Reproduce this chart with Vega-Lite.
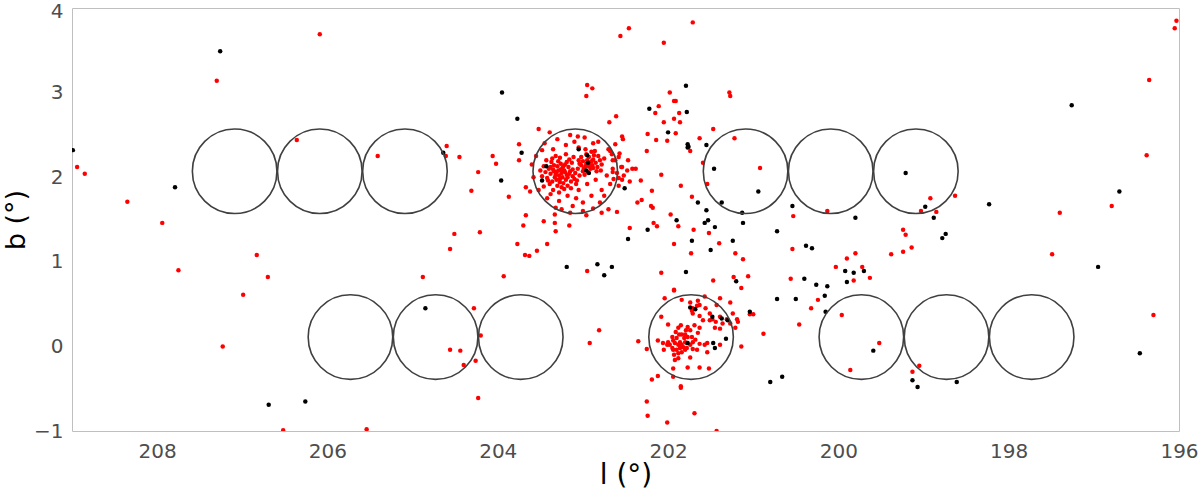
{
  "$schema": "https://vega.github.io/schema/vega-lite/v6.json",
  "width": 1107,
  "height": 423,
  "autosize": "none",
  "padding": {"left": 72, "top": 8, "right": 21, "bottom": 59},
  "background": "white",
  "config": {
    "view": {"stroke": "#bfbfbf", "strokeWidth": 1},
    "font": "DejaVu Sans"
  },
  "datasets": {
    "fields": [
      {"l": 207.09, "b": 2.07}, {"l": 206.09, "b": 2.07}, {"l": 205.09, "b": 2.07},
      {"l": 203.09, "b": 2.07}, {"l": 201.09, "b": 2.07}, {"l": 200.09, "b": 2.07},
      {"l": 199.09, "b": 2.07},
      {"l": 205.73, "b": 0.11}, {"l": 204.73, "b": 0.11}, {"l": 203.73, "b": 0.11},
      {"l": 201.73, "b": 0.11}, {"l": 199.73, "b": 0.11}, {"l": 198.73, "b": 0.11},
      {"l": 197.73, "b": 0.11}
    ],
    "stars": [
      {"l": 208.94, "b": 2.12, "s": "a"}, {"l": 208.85, "b": 2.04, "s": "a"}, {"l": 208.35, "b": 1.71, "s": "a"},
      {"l": 207.94, "b": 1.46, "s": "a"}, {"l": 207.75, "b": 0.90, "s": "a"}, {"l": 207.30, "b": 3.14, "s": "a"},
      {"l": 207.23, "b": 0.00, "s": "a"}, {"l": 206.83, "b": 1.08, "s": "a"}, {"l": 206.70, "b": 0.82, "s": "a"},
      {"l": 206.99, "b": 0.61, "s": "a"}, {"l": 206.52, "b": -0.99, "s": "a"}, {"l": 206.36, "b": 2.44, "s": "a"},
      {"l": 206.09, "b": 3.69, "s": "a"}, {"l": 205.41, "b": 2.25, "s": "a"}, {"l": 204.60, "b": 2.37, "s": "a"},
      {"l": 204.61, "b": 2.25, "s": "a"}, {"l": 204.45, "b": 2.24, "s": "a"}, {"l": 204.23, "b": 2.06, "s": "a"},
      {"l": 204.31, "b": 1.84, "s": "a"}, {"l": 204.06, "b": 2.25, "s": "a"}, {"l": 204.02, "b": 2.16, "s": "a"},
      {"l": 203.87, "b": 1.77, "s": "a"}, {"l": 203.75, "b": 2.39, "s": "a"}, {"l": 203.75, "b": 2.20, "s": "a"},
      {"l": 203.52, "b": 2.57, "s": "a"}, {"l": 203.39, "b": 2.53, "s": "a"}, {"l": 203.67, "b": 1.88, "s": "a"},
      {"l": 203.62, "b": 1.83, "s": "a"}, {"l": 203.67, "b": 1.55, "s": "a"}, {"l": 203.33, "b": 1.56, "s": "a"},
      {"l": 203.32, "b": 1.64, "s": "a"}, {"l": 203.46, "b": 1.48, "s": "a"}, {"l": 203.06, "b": 2.48, "s": "a"},
      {"l": 202.56, "b": 3.67, "s": "a"}, {"l": 202.46, "b": 3.76, "s": "a"}, {"l": 202.05, "b": 3.59, "s": "a"},
      {"l": 201.71, "b": 3.83, "s": "a"}, {"l": 202.95, "b": 3.09, "s": "a"}, {"l": 202.89, "b": 3.05, "s": "a"},
      {"l": 202.96, "b": 2.96, "s": "a"}, {"l": 201.98, "b": 3.00, "s": "a"}, {"l": 201.93, "b": 2.90, "s": "a"},
      {"l": 201.91, "b": 2.90, "s": "a"}, {"l": 202.11, "b": 2.84, "s": "a"}, {"l": 202.15, "b": 2.76, "s": "a"},
      {"l": 201.87, "b": 2.76, "s": "a"}, {"l": 201.93, "b": 2.69, "s": "a"}, {"l": 201.86, "b": 2.65, "s": "a"},
      {"l": 202.05, "b": 2.65, "s": "a"}, {"l": 201.28, "b": 3.00, "s": "a"}, {"l": 201.27, "b": 2.96, "s": "a"},
      {"l": 201.91, "b": 2.52, "s": "a"}, {"l": 202.24, "b": 2.51, "s": "a"}, {"l": 202.14, "b": 2.44, "s": "a"},
      {"l": 202.01, "b": 2.43, "s": "a"}, {"l": 202.61, "b": 2.72, "s": "a"}, {"l": 202.69, "b": 2.65, "s": "a"},
      {"l": 202.54, "b": 2.48, "s": "a"}, {"l": 202.53, "b": 2.45, "s": "a"}, {"l": 202.25, "b": 2.31, "s": "a"},
      {"l": 201.74, "b": 2.31, "s": "a"}, {"l": 201.63, "b": 2.46, "s": "a"}, {"l": 201.47, "b": 2.57, "s": "a"},
      {"l": 201.22, "b": 2.46, "s": "a"}, {"l": 201.59, "b": 2.17, "s": "a"}, {"l": 200.92, "b": 2.11, "s": "a"},
      {"l": 201.54, "b": 1.92, "s": "a"}, {"l": 202.42, "b": 2.10, "s": "a"}, {"l": 202.38, "b": 2.10, "s": "a"},
      {"l": 202.32, "b": 1.96, "s": "a"}, {"l": 202.08, "b": 2.03, "s": "a"}, {"l": 201.85, "b": 1.90, "s": "a"},
      {"l": 202.19, "b": 1.84, "s": "a"}, {"l": 202.36, "b": 1.70, "s": "a"}, {"l": 202.31, "b": 1.73, "s": "a"},
      {"l": 202.20, "b": 1.66, "s": "a"}, {"l": 202.18, "b": 1.64, "s": "a"}, {"l": 201.72, "b": 1.77, "s": "a"},
      {"l": 202.60, "b": 1.59, "s": "a"}, {"l": 201.97, "b": 1.56, "s": "a"}, {"l": 200.53, "b": 1.54, "s": "a"},
      {"l": 200.13, "b": 1.60, "s": "a"}, {"l": 202.17, "b": 1.46, "s": "a"}, {"l": 202.45, "b": 1.40, "s": "a"},
      {"l": 202.13, "b": 1.42, "s": "a"}, {"l": 201.88, "b": 1.42, "s": "a"}, {"l": 201.70, "b": 1.38, "s": "a"},
      {"l": 201.52, "b": 1.34, "s": "a"}, {"l": 201.40, "b": 1.22, "s": "a"}, {"l": 201.93, "b": 1.21, "s": "a"},
      {"l": 201.73, "b": 1.10, "s": "a"}, {"l": 201.21, "b": 1.10, "s": "a"}, {"l": 201.12, "b": 1.03, "s": "a"},
      {"l": 200.54, "b": 1.15, "s": "a"}, {"l": 199.90, "b": 1.04, "s": "a"}, {"l": 199.80, "b": 1.10, "s": "a"},
      {"l": 200.03, "b": 0.94, "s": "a"}, {"l": 199.72, "b": 0.94, "s": "a"}, {"l": 199.63, "b": 0.81, "s": "a"},
      {"l": 199.82, "b": 0.78, "s": "a"}, {"l": 200.56, "b": 0.80, "s": "a"}, {"l": 200.24, "b": 0.55, "s": "a"},
      {"l": 200.32, "b": 0.45, "s": "a"}, {"l": 199.96, "b": 0.37, "s": "a"}, {"l": 200.46, "b": 0.26, "s": "a"},
      {"l": 199.52, "b": 0.04, "s": "a"}, {"l": 199.86, "b": -0.28, "s": "a"}, {"l": 200.88, "b": 0.15, "s": "a"},
      {"l": 201.04, "b": 0.38, "s": "a"}, {"l": 201.00, "b": 0.38, "s": "a"}, {"l": 201.14, "b": 0.00, "s": "a"},
      {"l": 201.06, "b": 0.83, "s": "a"}, {"l": 201.14, "b": 0.69, "s": "a"}, {"l": 201.23, "b": 0.82, "s": "a"},
      {"l": 201.47, "b": 0.78, "s": "a"}, {"l": 202.08, "b": 0.87, "s": "a"}, {"l": 201.93, "b": 0.67, "s": "a"},
      {"l": 202.95, "b": 0.89, "s": "a"}, {"l": 202.81, "b": 0.19, "s": "a"}, {"l": 202.92, "b": 0.04, "s": "a"},
      {"l": 202.35, "b": 0.06, "s": "a"}, {"l": 202.25, "b": -0.03, "s": "a"}, {"l": 202.19, "b": -0.39, "s": "a"},
      {"l": 202.12, "b": -0.35, "s": "a"}, {"l": 201.85, "b": -0.47, "s": "a"}, {"l": 201.85, "b": -0.49, "s": "a"},
      {"l": 202.25, "b": -0.65, "s": "a"}, {"l": 202.24, "b": -0.82, "s": "a"}, {"l": 202.01, "b": -0.90, "s": "a"},
      {"l": 201.69, "b": -0.79, "s": "a"}, {"l": 201.43, "b": -1.00, "s": "a"},
      {"l": 204.51, "b": 1.33, "s": "a"}, {"l": 204.21, "b": 1.35, "s": "a"}, {"l": 204.56, "b": 1.15, "s": "a"},
      {"l": 204.88, "b": 0.82, "s": "a"}, {"l": 203.93, "b": 0.83, "s": "a"}, {"l": 203.77, "b": 1.21, "s": "a"},
      {"l": 203.68, "b": 1.08, "s": "a"}, {"l": 203.63, "b": 1.07, "s": "a"}, {"l": 203.54, "b": 1.13, "s": "a"},
      {"l": 203.42, "b": 1.21, "s": "a"}, {"l": 203.70, "b": 1.43, "s": "a"}, {"l": 203.33, "b": 1.46, "s": "a"},
      {"l": 203.32, "b": 1.36, "s": "a"}, {"l": 203.16, "b": 1.43, "s": "a"}, {"l": 204.28, "b": 0.45, "s": "a"},
      {"l": 204.20, "b": 0.13, "s": "a"}, {"l": 204.56, "b": -0.04, "s": "a"}, {"l": 204.44, "b": -0.05, "s": "a"},
      {"l": 204.40, "b": -0.22, "s": "a"}, {"l": 204.26, "b": -0.17, "s": "a"}, {"l": 204.23, "b": -0.61, "s": "a"},
      {"l": 205.54, "b": -0.98, "s": "a"},
      {"l": 196.03, "b": 3.85, "s": "a"}, {"l": 196.05, "b": 3.76, "s": "a"}, {"l": 196.35, "b": 3.15, "s": "a"},
      {"l": 196.38, "b": 2.26, "s": "a"}, {"l": 198.92, "b": 1.75, "s": "a"}, {"l": 198.63, "b": 1.78, "s": "a"},
      {"l": 199.03, "b": 1.60, "s": "a"}, {"l": 198.85, "b": 1.59, "s": "a"}, {"l": 197.40, "b": 1.58, "s": "a"},
      {"l": 196.79, "b": 1.66, "s": "a"}, {"l": 199.24, "b": 1.38, "s": "a"}, {"l": 199.21, "b": 1.32, "s": "a"},
      {"l": 199.14, "b": 1.17, "s": "a"}, {"l": 199.38, "b": 1.09, "s": "a"}, {"l": 199.24, "b": 1.12, "s": "a"},
      {"l": 197.49, "b": 1.09, "s": "a"}, {"l": 196.30, "b": 0.37, "s": "a"}, {"l": 199.05, "b": -0.23, "s": "a"},
      {"l": 199.13, "b": -0.30, "s": "a"},
      {"l": 202.62, "b": 2.39, "s": "a"}, {"l": 202.68, "b": 2.31, "s": "a"}, {"l": 202.65, "b": 2.20, "s": "a"},
      {"l": 202.58, "b": 2.24, "s": "a"}, {"l": 202.54, "b": 2.12, "s": "a"}, {"l": 202.47, "b": 2.20, "s": "a"},
      {"l": 202.65, "b": 2.06, "s": "a"}, {"l": 202.58, "b": 1.99, "s": "a"}, {"l": 202.54, "b": 1.97, "s": "a"},

      {"l": 203.25, "b": 2.05, "s": "a"}, {"l": 203.22, "b": 2.08, "s": "a"}, {"l": 203.28, "b": 2.02, "s": "a"},
      {"l": 203.31, "b": 2.06, "s": "a"}, {"l": 203.19, "b": 2.03, "s": "a"}, {"l": 203.24, "b": 2.11, "s": "a"},
      {"l": 203.27, "b": 1.98, "s": "a"}, {"l": 203.35, "b": 2.09, "s": "a"}, {"l": 203.15, "b": 2.07, "s": "a"},
      {"l": 203.30, "b": 2.13, "s": "a"}, {"l": 203.20, "b": 1.97, "s": "a"}, {"l": 203.33, "b": 2.00, "s": "a"},
      {"l": 203.12, "b": 2.01, "s": "a"}, {"l": 203.38, "b": 2.04, "s": "a"}, {"l": 203.26, "b": 2.16, "s": "a"},
      {"l": 203.17, "b": 2.12, "s": "a"}, {"l": 203.23, "b": 1.93, "s": "a"}, {"l": 203.40, "b": 2.10, "s": "a"},
      {"l": 203.09, "b": 2.05, "s": "a"}, {"l": 203.29, "b": 2.19, "s": "a"}, {"l": 203.36, "b": 1.95, "s": "a"},
      {"l": 203.14, "b": 1.95, "s": "a"}, {"l": 203.21, "b": 2.15, "s": "a"}, {"l": 203.34, "b": 2.14, "s": "a"},
      {"l": 203.44, "b": 2.06, "s": "a"}, {"l": 203.06, "b": 2.10, "s": "a"}, {"l": 203.18, "b": 1.90, "s": "a"},
      {"l": 203.30, "b": 1.90, "s": "a"}, {"l": 203.42, "b": 1.99, "s": "a"}, {"l": 203.10, "b": 1.98, "s": "a"},
      {"l": 203.27, "b": 2.23, "s": "a"}, {"l": 203.13, "b": 2.17, "s": "a"}, {"l": 203.37, "b": 2.18, "s": "a"},
      {"l": 203.46, "b": 2.13, "s": "a"}, {"l": 203.04, "b": 2.02, "s": "a"}, {"l": 203.22, "b": 1.86, "s": "a"},
      {"l": 203.39, "b": 1.92, "s": "a"}, {"l": 203.16, "b": 2.21, "s": "a"}, {"l": 203.48, "b": 2.01, "s": "a"},
      {"l": 203.02, "b": 2.14, "s": "a"}, {"l": 203.32, "b": 2.25, "s": "a"}, {"l": 203.25, "b": 1.88, "s": "a"},
      {"l": 203.08, "b": 1.92, "s": "a"}, {"l": 203.43, "b": 2.20, "s": "a"}, {"l": 203.20, "b": 2.27, "s": "a"},
      {"l": 203.11, "b": 2.24, "s": "a"}, {"l": 203.35, "b": 1.85, "s": "a"}, {"l": 203.50, "b": 2.08, "s": "a"},
      {"l": 203.00, "b": 2.07, "s": "a"}, {"l": 203.28, "b": 1.82, "s": "a"}, {"l": 203.18, "b": 2.00, "s": "a"},
      {"l": 203.24, "b": 2.00, "s": "a"}, {"l": 203.32, "b": 2.03, "s": "a"}, {"l": 203.26, "b": 2.09, "s": "a"},
      {"l": 203.21, "b": 2.06, "s": "a"}, {"l": 203.29, "b": 2.08, "s": "a"}, {"l": 203.16, "b": 2.04, "s": "a"},
      {"l": 203.34, "b": 2.07, "s": "a"}, {"l": 203.23, "b": 2.13, "s": "a"}, {"l": 203.12, "b": 2.09, "s": "a"},
      {"l": 203.38, "b": 2.12, "s": "a"}, {"l": 203.19, "b": 2.18, "s": "a"}, {"l": 203.31, "b": 1.97, "s": "a"},
      {"l": 203.07, "b": 1.96, "s": "a"}, {"l": 203.41, "b": 1.96, "s": "a"}, {"l": 203.27, "b": 1.94, "s": "a"},
      {"l": 203.14, "b": 1.87, "s": "a"}, {"l": 203.46, "b": 1.89, "s": "a"}, {"l": 203.05, "b": 2.20, "s": "a"},
      {"l": 203.36, "b": 2.22, "s": "a"},

      {"l": 202.92, "b": 2.17, "s": "a"}, {"l": 202.95, "b": 2.20, "s": "a"}, {"l": 202.89, "b": 2.14, "s": "a"},
      {"l": 202.97, "b": 2.13, "s": "a"}, {"l": 202.88, "b": 2.21, "s": "a"}, {"l": 202.93, "b": 2.24, "s": "a"},
      {"l": 202.85, "b": 2.17, "s": "a"}, {"l": 203.00, "b": 2.19, "s": "a"}, {"l": 202.91, "b": 2.10, "s": "a"},
      {"l": 202.96, "b": 2.27, "s": "a"}, {"l": 202.83, "b": 2.12, "s": "a"}, {"l": 202.99, "b": 2.10, "s": "a"},
      {"l": 202.87, "b": 2.26, "s": "a"}, {"l": 202.94, "b": 2.06, "s": "a"}, {"l": 202.80, "b": 2.20, "s": "a"},
      {"l": 203.02, "b": 2.24, "s": "a"}, {"l": 202.90, "b": 2.30, "s": "a"}, {"l": 202.84, "b": 2.07, "s": "a"},
      {"l": 202.98, "b": 2.03, "s": "a"}, {"l": 202.78, "b": 2.15, "s": "a"}, {"l": 202.86, "b": 2.31, "s": "a"},
      {"l": 203.04, "b": 2.16, "s": "a"}, {"l": 202.82, "b": 2.25, "s": "a"}, {"l": 202.93, "b": 2.13, "s": "a"},
      {"l": 202.90, "b": 2.19, "s": "a"}, {"l": 202.96, "b": 2.16, "s": "a"}, {"l": 202.88, "b": 2.11, "s": "a"},
      {"l": 202.75, "b": 2.22, "s": "a"}, {"l": 202.79, "b": 2.08, "s": "a"}, {"l": 202.97, "b": 2.33, "s": "a"},

      {"l": 203.45, "b": 2.40, "s": "a"}, {"l": 203.30, "b": 2.45, "s": "a"}, {"l": 203.15, "b": 2.50, "s": "a"},
      {"l": 202.98, "b": 2.47, "s": "a"}, {"l": 202.82, "b": 2.42, "s": "a"}, {"l": 202.70, "b": 2.33, "s": "a"},
      {"l": 202.72, "b": 2.02, "s": "a"}, {"l": 202.68, "b": 1.92, "s": "a"}, {"l": 202.78, "b": 1.85, "s": "a"},
      {"l": 202.90, "b": 1.78, "s": "a"}, {"l": 203.00, "b": 1.70, "s": "a"}, {"l": 203.12, "b": 1.66, "s": "a"},
      {"l": 203.28, "b": 1.72, "s": "a"}, {"l": 203.42, "b": 1.75, "s": "a"}, {"l": 203.52, "b": 1.85, "s": "a"},
      {"l": 203.55, "b": 2.25, "s": "a"}, {"l": 203.58, "b": 2.00, "s": "a"}, {"l": 203.20, "b": 2.38, "s": "a"},
      {"l": 203.05, "b": 2.35, "s": "a"}, {"l": 202.88, "b": 2.40, "s": "a"}, {"l": 203.35, "b": 2.33, "s": "a"},
      {"l": 202.75, "b": 1.78, "s": "a"}, {"l": 202.95, "b": 1.92, "s": "a"}, {"l": 203.05, "b": 1.85, "s": "a"},
      {"l": 202.85, "b": 1.97, "s": "a"}, {"l": 202.80, "b": 1.70, "s": "a"}, {"l": 203.18, "b": 1.78, "s": "a"},
      {"l": 203.38, "b": 1.80, "s": "a"}, {"l": 202.65, "b": 2.10, "s": "a"}, {"l": 202.62, "b": 2.20, "s": "a"},
      {"l": 202.60, "b": 2.05, "s": "a"}, {"l": 202.64, "b": 1.98, "s": "a"}, {"l": 202.66, "b": 2.27, "s": "a"},
      {"l": 202.58, "b": 1.90, "s": "a"}, {"l": 202.55, "b": 2.12, "s": "a"}, {"l": 202.52, "b": 2.02, "s": "a"},
      {"l": 202.48, "b": 2.08, "s": "a"}, {"l": 202.45, "b": 1.95, "s": "a"}, {"l": 202.57, "b": 2.28, "s": "a"},
      {"l": 202.70, "b": 1.62, "s": "a"}, {"l": 203.00, "b": 1.60, "s": "a"}, {"l": 202.88, "b": 1.63, "s": "a"},
      {"l": 203.08, "b": 1.75, "s": "a"}, {"l": 203.25, "b": 1.62, "s": "a"}, {"l": 203.48, "b": 2.32, "s": "a"},
      {"l": 203.60, "b": 2.15, "s": "a"}, {"l": 203.10, "b": 2.42, "s": "a"}, {"l": 202.96, "b": 1.55, "s": "a"},
      {"l": 202.78, "b": 1.58, "s": "a"}, {"l": 203.15, "b": 1.58, "s": "a"},

      {"l": 201.93, "b": 0.66, "s": "a"}, {"l": 202.04, "b": 0.57, "s": "a"}, {"l": 201.84, "b": 0.55, "s": "a"},
      {"l": 201.74, "b": 0.52, "s": "a"}, {"l": 201.65, "b": 0.54, "s": "a"}, {"l": 201.71, "b": 0.45, "s": "a"},
      {"l": 201.66, "b": 0.48, "s": "a"}, {"l": 201.72, "b": 0.42, "s": "a"}, {"l": 201.71, "b": 0.39, "s": "a"},
      {"l": 201.63, "b": 0.49, "s": "a"}, {"l": 201.57, "b": 0.59, "s": "a"}, {"l": 201.39, "b": 0.57, "s": "a"},
      {"l": 201.27, "b": 0.52, "s": "a"}, {"l": 201.43, "b": 0.49, "s": "a"}, {"l": 201.51, "b": 0.39, "s": "a"},
      {"l": 201.48, "b": 0.32, "s": "a"}, {"l": 201.39, "b": 0.35, "s": "a"}, {"l": 201.31, "b": 0.32, "s": "a"},
      {"l": 201.36, "b": 0.27, "s": "a"}, {"l": 201.44, "b": 0.29, "s": "a"}, {"l": 201.51, "b": 0.31, "s": "a"},
      {"l": 201.24, "b": 0.39, "s": "a"}, {"l": 201.19, "b": 0.32, "s": "a"}, {"l": 201.18, "b": 0.29, "s": "a"},
      {"l": 201.27, "b": 0.27, "s": "a"}, {"l": 201.45, "b": 0.22, "s": "a"}, {"l": 201.39, "b": 0.21, "s": "a"},
      {"l": 201.63, "b": 0.22, "s": "a"}, {"l": 201.69, "b": 0.25, "s": "a"}, {"l": 201.77, "b": 0.23, "s": "a"},
      {"l": 201.74, "b": 0.19, "s": "a"}, {"l": 201.65, "b": 0.16, "s": "a"}, {"l": 201.72, "b": 0.11, "s": "a"},
      {"l": 201.80, "b": 0.14, "s": "a"}, {"l": 202.00, "b": 0.26, "s": "a"}, {"l": 201.88, "b": 0.22, "s": "a"},
      {"l": 202.08, "b": 0.35, "s": "a"}, {"l": 201.95, "b": 0.11, "s": "a"}, {"l": 201.90, "b": 0.10, "s": "a"},
      {"l": 201.86, "b": 0.05, "s": "a"}, {"l": 201.84, "b": 0.02, "s": "a"}, {"l": 201.80, "b": 0.05, "s": "a"},
      {"l": 201.78, "b": 0.04, "s": "a"}, {"l": 201.88, "b": 0.02, "s": "a"}, {"l": 201.92, "b": 0.04, "s": "a"},
      {"l": 201.98, "b": 0.02, "s": "a"}, {"l": 202.01, "b": 0.02, "s": "a"}, {"l": 201.82, "b": -0.01, "s": "a"},
      {"l": 201.86, "b": -0.02, "s": "a"}, {"l": 201.90, "b": -0.04, "s": "a"}, {"l": 201.94, "b": -0.04, "s": "a"},
      {"l": 201.78, "b": -0.02, "s": "a"}, {"l": 201.74, "b": 0.02, "s": "a"}, {"l": 201.81, "b": 0.10, "s": "a"},
      {"l": 201.77, "b": 0.11, "s": "a"}, {"l": 201.84, "b": 0.14, "s": "a"}, {"l": 201.94, "b": 0.07, "s": "a"},
      {"l": 202.00, "b": 0.05, "s": "a"}, {"l": 201.88, "b": -0.08, "s": "a"}, {"l": 201.84, "b": -0.07, "s": "a"},
      {"l": 201.80, "b": -0.04, "s": "a"}, {"l": 201.95, "b": -0.02, "s": "a"}, {"l": 202.06, "b": 0.04, "s": "a"},
      {"l": 201.71, "b": -0.03, "s": "a"}, {"l": 201.71, "b": 0.05, "s": "a"}, {"l": 202.12, "b": 0.07, "s": "a"},
      {"l": 201.63, "b": 0.03, "s": "a"}, {"l": 201.66, "b": -0.04, "s": "a"}, {"l": 201.54, "b": 0.04, "s": "a"},
      {"l": 201.57, "b": 0.02, "s": "a"}, {"l": 201.39, "b": 0.02, "s": "a"}, {"l": 201.54, "b": -0.07, "s": "a"},
      {"l": 201.74, "b": -0.13, "s": "a"}, {"l": 201.88, "b": -0.14, "s": "a"}, {"l": 201.92, "b": -0.16, "s": "a"},
      {"l": 201.94, "b": -0.26, "s": "a"}, {"l": 201.77, "b": -0.25, "s": "a"}, {"l": 201.63, "b": -0.25, "s": "a"},
      {"l": 201.52, "b": -0.26, "s": "a"}, {"l": 201.94, "b": -0.36, "s": "a"}, {"l": 201.21, "b": 0.22, "s": "a"},
      {"l": 201.87, "b": 0.14, "s": "a"}, {"l": 201.91, "b": 0.17, "s": "a"}, {"l": 201.79, "b": 0.19, "s": "a"},
      {"l": 201.85, "b": 0.25, "s": "a"}, {"l": 201.59, "b": 0.31, "s": "a"}, {"l": 201.63, "b": 0.36, "s": "a"},
      {"l": 201.56, "b": 0.45, "s": "a"}, {"l": 201.93, "b": -0.10, "s": "a"}, {"l": 202.05, "b": -0.04, "s": "a"},
      {"l": 201.68, "b": 0.08, "s": "a"},

      {"l": 208.99, "b": 2.32, "s": "b"}, {"l": 207.79, "b": 1.88, "s": "b"}, {"l": 207.26, "b": 3.49, "s": "b"},
      {"l": 206.69, "b": -0.69, "s": "b"}, {"l": 206.26, "b": -0.65, "s": "b"}, {"l": 204.64, "b": 2.29, "s": "b"},
      {"l": 203.95, "b": 3.00, "s": "b"}, {"l": 203.77, "b": 2.69, "s": "b"}, {"l": 203.96, "b": 1.96, "s": "b"},
      {"l": 203.72, "b": 2.29, "s": "b"}, {"l": 203.43, "b": 2.13, "s": "b"}, {"l": 203.48, "b": 1.96, "s": "b"},
      {"l": 203.05, "b": 2.33, "s": "b"}, {"l": 202.95, "b": 2.26, "s": "b"}, {"l": 202.94, "b": 2.17, "s": "b"},
      {"l": 202.96, "b": 2.08, "s": "b"}, {"l": 202.93, "b": 2.05, "s": "b"}, {"l": 202.51, "b": 1.87, "s": "b"},
      {"l": 202.22, "b": 2.81, "s": "b"}, {"l": 202.00, "b": 2.53, "s": "b"}, {"l": 201.79, "b": 3.08, "s": "b"},
      {"l": 201.78, "b": 2.77, "s": "b"}, {"l": 201.77, "b": 2.39, "s": "b"}, {"l": 201.76, "b": 2.36, "s": "b"},
      {"l": 201.77, "b": 2.35, "s": "b"}, {"l": 201.55, "b": 2.38, "s": "b"}, {"l": 201.46, "b": 2.10, "s": "b"},
      {"l": 200.94, "b": 1.83, "s": "b"}, {"l": 201.65, "b": 1.70, "s": "b"}, {"l": 201.55, "b": 1.61, "s": "b"},
      {"l": 201.37, "b": 1.70, "s": "b"}, {"l": 201.90, "b": 1.49, "s": "b"}, {"l": 201.53, "b": 1.49, "s": "b"},
      {"l": 201.57, "b": 1.46, "s": "b"}, {"l": 201.13, "b": 1.58, "s": "b"}, {"l": 201.12, "b": 1.46, "s": "b"},
      {"l": 200.54, "b": 1.66, "s": "b"}, {"l": 199.80, "b": 1.52, "s": "b"}, {"l": 202.24, "b": 1.38, "s": "b"},
      {"l": 202.47, "b": 1.27, "s": "b"}, {"l": 201.45, "b": 1.41, "s": "b"}, {"l": 201.72, "b": 1.25, "s": "b"},
      {"l": 201.24, "b": 1.25, "s": "b"}, {"l": 201.50, "b": 1.14, "s": "b"}, {"l": 200.72, "b": 1.36, "s": "b"},
      {"l": 200.38, "b": 1.19, "s": "b"}, {"l": 200.31, "b": 1.16, "s": "b"}, {"l": 199.92, "b": 0.89, "s": "b"},
      {"l": 199.82, "b": 0.87, "s": "b"}, {"l": 199.70, "b": 0.89, "s": "b"}, {"l": 199.90, "b": 0.76, "s": "b"},
      {"l": 200.40, "b": 0.80, "s": "b"}, {"l": 200.26, "b": 0.73, "s": "b"}, {"l": 200.13, "b": 0.71, "s": "b"},
      {"l": 200.16, "b": 0.60, "s": "b"}, {"l": 200.50, "b": 0.56, "s": "b"}, {"l": 200.72, "b": 0.56, "s": "b"},
      {"l": 200.15, "b": 0.41, "s": "b"}, {"l": 199.59, "b": -0.05, "s": "b"}, {"l": 200.80, "b": -0.42, "s": "b"},
      {"l": 200.66, "b": -0.36, "s": "b"}, {"l": 201.04, "b": 0.41, "s": "b"}, {"l": 201.20, "b": 0.77, "s": "b"},
      {"l": 201.79, "b": 0.88, "s": "b"}, {"l": 202.83, "b": 0.97, "s": "b"}, {"l": 202.66, "b": 0.94, "s": "b"},
      {"l": 202.75, "b": 0.84, "s": "b"}, {"l": 203.19, "b": 0.94, "s": "b"}, {"l": 204.85, "b": 0.45, "s": "b"},
      {"l": 199.21, "b": 2.05, "s": "b"}, {"l": 198.98, "b": 1.65, "s": "b"}, {"l": 198.88, "b": 1.52, "s": "b"},
      {"l": 198.23, "b": 1.68, "s": "b"}, {"l": 197.26, "b": 2.85, "s": "b"}, {"l": 196.70, "b": 1.83, "s": "b"},
      {"l": 198.74, "b": 1.33, "s": "b"}, {"l": 198.78, "b": 1.28, "s": "b"}, {"l": 196.95, "b": 0.94, "s": "b"},
      {"l": 196.46, "b": -0.08, "s": "b"}, {"l": 199.13, "b": -0.40, "s": "b"}, {"l": 199.07, "b": -0.48, "s": "b"},
      {"l": 198.61, "b": -0.42, "s": "b"},
      {"l": 201.74, "b": 0.46, "s": "b"}, {"l": 201.68, "b": 0.44, "s": "b"}, {"l": 201.48, "b": 0.35, "s": "b"},
      {"l": 201.37, "b": 0.33, "s": "b"}, {"l": 201.30, "b": 0.31, "s": "b"}, {"l": 201.77, "b": 0.04, "s": "b"},
      {"l": 201.47, "b": 0.04, "s": "b"}, {"l": 201.45, "b": -0.02, "s": "b"}, {"l": 201.32, "b": 0.09, "s": "b"}
    ]
  },
  "encoding": {
    "x": {
      "field": "l",
      "type": "quantitative",
      "scale": {"domain": [196, 209], "reverse": true, "nice": false, "zero": false},
      "axis": {
        "values": [208, 206, 204, 202, 200, 198, 196],
        "title": "l (°)",
        "domain": false,
        "ticks": false,
        "grid": false,
        "labelFlush": false,
        "labelOverlap": false,
        "labelFontSize": 20,
        "labelColor": "#4d4d4d",
        "labelPadding": 10,
        "titleFontSize": 28,
        "titleFontWeight": "normal",
        "titleColor": "#000000",
        "titlePadding": 0
      }
    },
    "y": {
      "field": "b",
      "type": "quantitative",
      "scale": {"domain": [-1, 4], "nice": false, "zero": false},
      "axis": {
        "values": [-1, 0, 1, 2, 3, 4],
        "title": "b (°)",
        "domain": false,
        "ticks": false,
        "grid": false,
        "labelFlush": false,
        "labelOverlap": false,
        "labelFontSize": 20,
        "labelColor": "#4d4d4d",
        "labelPadding": 9,
        "labelOffset": {"condition": {"test": "datum.value === 4", "value": 3}, "value": 0},
        "titleFontSize": 27,
        "titleFontWeight": "normal",
        "titleColor": "#000000",
        "titlePadding": 3
      }
    }
  },
  "layer": [
    {
      "data": {"name": "stars"},
      "mark": {"type": "circle", "size": 20, "opacity": 1, "clip": true},
      "encoding": {
        "color": {
          "field": "s",
          "type": "nominal",
          "scale": {"domain": ["a", "b"], "range": ["#ff0000", "#000000"]},
          "legend": null
        }
      }
    },
    {
      "data": {"name": "fields"},
      "mark": {
        "type": "point",
        "shape": "circle",
        "filled": false,
        "size": 7150,
        "stroke": "#404040",
        "strokeWidth": 1.6,
        "opacity": 1
      },
      "encoding": {}
    }
  ]
}
